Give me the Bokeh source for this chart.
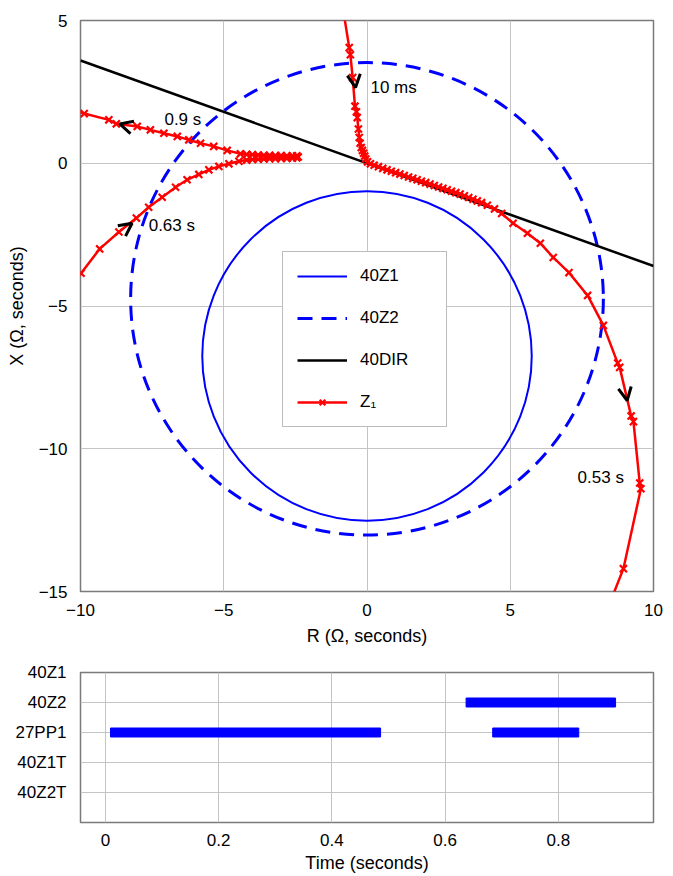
import math
from bokeh.plotting import figure
from bokeh.models import (ColumnDataSource, Legend, LegendItem, Arrow, OpenHead,
                          FixedTicker, Range1d)
from bokeh.layouts import column
from bokeh.embed import file_html
from bokeh.resources import INLINE
from bokeh.core.properties import value

FONT = "Liberation Sans"

# ---------------- data: impedance plane ----------------
r_ticks = [-10, -5, 0, 5, 10]
x_ticks = [-15, -10, -5, 0, 5]

zone1_center = [0.0, -6.75]
zone1_radius = 5.75
zone2_center = [0.0, -4.75]
zone2_radius = 8.25

dir_r = [-10.0, 10.0]
dir_x = [3.6, -3.6]

# Z1 trajectory, part A (10 ms ... 0.53 s)
z1a_r = [-0.82, -0.62, -0.58, -0.5, -0.42, -0.37, -0.34, -0.3, -0.27, -0.24, -0.2, -0.16,
         -0.12, -0.08, -0.04, 0.02, 0.12, 0.25, 0.4, 0.55, 0.7, 0.85, 1.0, 1.15, 1.3,
         1.45, 1.6, 1.75, 1.9, 2.05, 2.2, 2.35, 2.5, 2.65, 2.8, 2.95, 3.1, 3.25, 3.4,
         3.55, 3.7, 3.85, 4.0, 4.2, 4.45, 4.7, 5.1, 5.6, 6.05, 6.5, 7.05, 7.7, 8.25,
         8.75, 8.82, 9.22, 9.3, 9.52, 9.56, 8.95, 8.4]
z1a_x = [5.3, 4.05, 3.8, 3.0, 2.0, 1.8, 1.6, 1.2, 0.9, 0.7, 0.55, 0.45,
         0.35, 0.25, 0.15, 0.05, -0.02, -0.07, -0.12, -0.18, -0.23, -0.28, -0.33, -0.38, -0.43,
         -0.48, -0.53, -0.58, -0.63, -0.68, -0.73, -0.78, -0.83, -0.88, -0.93, -0.98, -1.03, -1.08, -1.14,
         -1.2, -1.26, -1.32, -1.38, -1.47, -1.6, -1.76, -2.1, -2.45, -2.8, -3.3, -3.83, -4.63, -5.68,
         -7.0, -7.15, -8.85, -9.05, -11.2, -11.4, -14.2, -15.6]

# Z1 trajectory, part B (0.63 s ... 0.9 s)
z1b_r = [-10.3, -9.98, -9.33, -8.66, -8.05, -7.62, -7.15, -6.68, -6.28, -5.87, -5.52, -5.17,
         -4.82, -4.47, -4.2, -4.0, -3.8, -3.6, -3.4, -3.2, -3.0, -2.8, -2.6, -2.45, -2.4,
         -2.45, -2.6, -2.8, -3.0, -3.2, -3.4, -3.6, -3.8, -4.0, -4.2, -4.42, -4.88, -5.35,
         -5.81, -6.22, -6.62, -7.09, -7.56, -8.02, -8.75, -9.01, -9.87, -10.3]
z1b_x = [-4.3, -3.85, -3.0, -2.41, -1.92, -1.54, -1.19, -0.84, -0.58, -0.39, -0.23, -0.11,
         -0.02, 0.07, 0.11, 0.13, 0.14, 0.15, 0.16, 0.16, 0.17, 0.17, 0.18, 0.19, 0.22,
         0.26, 0.26, 0.26, 0.27, 0.27, 0.28, 0.28, 0.29, 0.3, 0.31, 0.33, 0.45, 0.59,
         0.70, 0.82, 0.94, 1.05, 1.17, 1.29, 1.38, 1.52, 1.74, 1.88]

# direction arrows (start -> tip)
arrow_r0 = [-0.5, 8.95, -8.8, -8.0]
arrow_x0 = [3.4, -7.6, -2.55, 1.2]
arrow_r1 = [-0.4, 9.08, -8.2, -8.63]
arrow_x1 = [2.65, -8.31, -2.1, 1.38]

label_text = ["10 ms", "0.9 s", "0.63 s", "0.53 s"]
label_r = [0.12, -7.07, -7.62, 7.35]
label_x = [2.65, 1.53, -2.18, -11.0]

# ---------------- data: logic signals ----------------
signals = ["40Z1", "40Z2", "27PP1", "40Z1T", "40Z2T"]
signal_pos = [5, 4, 3, 2, 1]
bar_signal = ["27PP1", "40Z2", "27PP1"]
bar_start = [0.009, 0.637, 0.684]
bar_end = [0.486, 0.901, 0.836]
time_ticks = [0, 0.2, 0.4, 0.6, 0.8]
time_labels = ["0", "0.2", "0.4", "0.6", "0.8"]

GRID = "#c4c4c4"
FRAME = "#7a7a7a"
BLUE = "#0000ff"
RED = "#ff0000"


def style(fig):
    fig.axis.axis_line_color = None
    fig.axis.major_tick_line_color = None
    fig.axis.minor_tick_line_color = None
    fig.axis.major_label_text_font = FONT
    fig.axis.major_label_text_font_size = "17px"
    fig.axis.major_label_text_color = "black"
    fig.axis.axis_label_text_font = FONT
    fig.axis.axis_label_text_font_size = "18px"
    fig.axis.axis_label_text_font_style = "normal"
    fig.axis.axis_label_text_color = "black"
    fig.outline_line_color = FRAME
    fig.outline_line_width = 1.5
    fig.grid.grid_line_color = GRID
    fig.grid.grid_line_width = 1
    fig.background_fill_color = "white"


def minus(v):
    return str(v).replace("-", "\u2212")


# ---------------- top figure ----------------
p = figure(frame_width=573, frame_height=571,
           x_range=Range1d(-10, 10), y_range=Range1d(-15, 5),
           min_border_left=80, min_border_right=12, min_border_top=20, min_border_bottom=30,
           output_backend="svg", toolbar_location=None)
style(p)
xt = FixedTicker(ticks=r_ticks)
yt = FixedTicker(ticks=x_ticks)
p.xaxis.ticker = xt
p.yaxis.ticker = yt
p.xgrid.ticker = xt
p.ygrid.ticker = yt
p.xaxis.major_label_overrides = {v: minus(v) for v in r_ticks}
p.yaxis.major_label_overrides = {v: minus(v) for v in x_ticks}
p.xaxis.major_label_standoff = 6
p.yaxis.major_label_standoff = 7
p.xaxis.axis_label = "R (\u03a9, seconds)"
p.yaxis.axis_label = "X (\u03a9, seconds)"
p.xaxis.axis_label_standoff = 7
p.yaxis.axis_label_standoff = 9

p.circle(x=[zone1_center[0]], y=[zone1_center[1]], radius=zone1_radius,
         fill_color=None, line_color=BLUE, line_width=2)
p.circle(x=[zone2_center[0]], y=[zone2_center[1]], radius=zone2_radius,
         fill_color=None, line_color=BLUE, line_width=3, line_dash="15 9")
dir_line = p.line(dir_r, dir_x, line_color="black", line_width=2.5)

za_line = p.line(z1a_r, z1a_x, line_color=RED, line_width=2.5)
za_pts = p.scatter(z1a_r, z1a_x, marker="x", size=10, line_color=RED, line_width=2.2)
p.line(z1b_r, z1b_x, line_color=RED, line_width=2.5)
p.scatter(z1b_r, z1b_x, marker="x", size=10, line_color=RED, line_width=2.2)

arrow_src = ColumnDataSource(dict(x0=arrow_r0, y0=arrow_x0, x1=arrow_r1, y1=arrow_x1))
p.add_layout(Arrow(end=OpenHead(size=13, line_width=3, line_color="black"),
                   x_start="x0", y_start="y0", x_end="x1", y_end="y1",
                   source=arrow_src, line_alpha=0))

p.text(x=label_r, y=label_x, text=label_text, text_font=value(FONT),
       text_font_size="17px", text_baseline="middle", text_align="left",
       text_color="black")

nan = float("nan")
leg1 = p.line([nan], [nan], line_color=BLUE, line_width=2)
leg2 = p.line([nan], [nan], line_color=BLUE, line_width=3, line_dash="15 9")
legend = Legend(items=[
    LegendItem(label="40Z1", renderers=[leg1]),
    LegendItem(label="40Z2", renderers=[leg2]),
    LegendItem(label="40DIR", renderers=[dir_line]),
    LegendItem(label="Z\u2081", renderers=[za_line, za_pts]),
], location=(202, 164))
legend.border_line_color = FRAME
legend.border_line_width = 1.5
legend.background_fill_color = "white"
legend.background_fill_alpha = 1
legend.glyph_width = 50
legend.glyph_height = 20
legend.label_standoff = 13
legend.spacing = 22
legend.padding = 14
legend.margin = 0
legend.label_width = 72
legend.label_text_font = FONT
legend.label_text_font_size = "17px"
legend.label_text_color = "black"
p.add_layout(legend)

# ---------------- bottom figure ----------------
q = figure(frame_width=573, frame_height=150,
           x_range=Range1d(-0.044, 0.968), y_range=Range1d(0, 5),
           min_border_left=80, min_border_right=12, min_border_top=24, min_border_bottom=20,
           output_backend="svg", toolbar_location=None)
style(q)
qxt = FixedTicker(ticks=time_ticks)
qyt = FixedTicker(ticks=signal_pos)
q.xaxis.ticker = qxt
q.yaxis.ticker = qyt
q.xgrid.ticker = qxt
q.ygrid.ticker = qyt
q.xaxis.major_label_overrides = {t: s for t, s in zip(time_ticks, time_labels)}
q.yaxis.major_label_overrides = {pos: s for pos, s in zip(signal_pos, signals)}
q.xaxis.major_label_standoff = 5
q.yaxis.major_label_standoff = 8
q.xaxis.axis_label = "Time (seconds)"
q.xaxis.axis_label_standoff = 4

pos_of = dict(zip(signals, signal_pos))
q.hbar(y=[pos_of[s] for s in bar_signal], left=bar_start, right=bar_end,
       height=0.3, fill_color=BLUE, line_color=BLUE)

layout = column(p, q)
open("out.html", "w").write(file_html(layout, INLINE))
